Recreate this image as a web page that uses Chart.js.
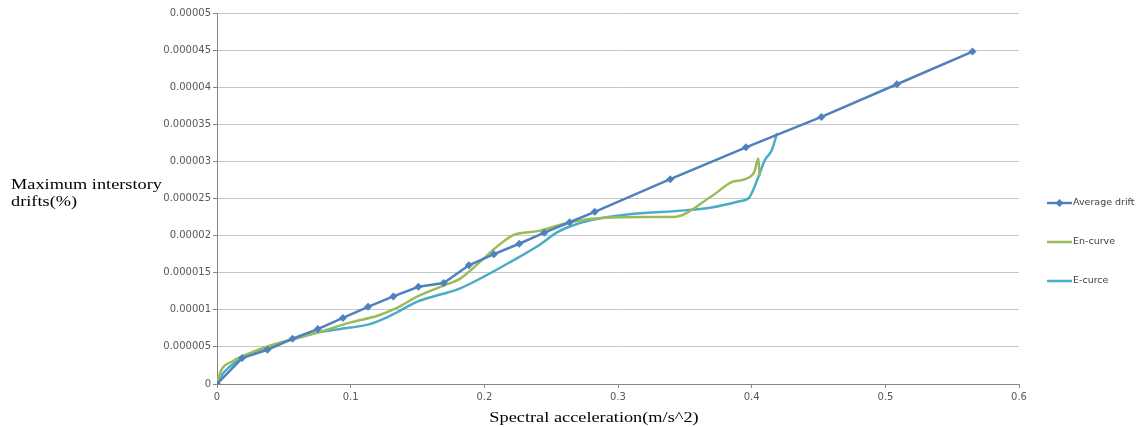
<!DOCTYPE html>
<html>
<head>
<meta charset="utf-8">
<script src="https://cdn.jsdelivr.net/npm/chart.js@4.4.0/dist/chart.umd.min.js"></script>
<style>
    html, body { margin: 0; padding: 0; background: #ffffff; }
    #wrap { width: 1138px; height: 427px; position: relative; }
</style>
</head>
<body>
<div id="wrap"><canvas id="driftChart"></canvas></div>
<script>
// tick labels
const xTickLabels = ['0', '0.1', '0.2', '0.3', '0.4', '0.5', '0.6'];
const yTickLabels = ['0', '0.000005', '0.00001', '0.000015', '0.00002', '0.000025', '0.00003', '0.000035', '0.00004', '0.000045', '0.00005'];

// Average drift
const avgX = [0, 0.0188, 0.0377, 0.0565, 0.0754, 0.0942, 0.113, 0.1319, 0.1507, 0.1696, 0.1884, 0.2072, 0.2261, 0.2449, 0.2638, 0.2826, 0.3391, 0.3957, 0.4522, 0.5087, 0.5652];
const avgY = [0, 3.5e-6, 4.6e-6, 6.1e-6, 7.4e-6, 8.9e-6, 10.4e-6, 11.8e-6, 13.1e-6, 13.6e-6, 16.0e-6, 17.5e-6, 18.9e-6, 20.4e-6, 21.8e-6, 23.2e-6, 27.6e-6, 31.9e-6, 36.0e-6, 40.4e-6, 44.8e-6];

// En-curve
const enX = [0, 0.003, 0.012, 0.025, 0.04, 0.06, 0.08, 0.1, 0.12, 0.135, 0.15, 0.17, 0.182, 0.197, 0.21, 0.222, 0.24, 0.264, 0.29, 0.32, 0.341, 0.37, 0.385, 0.395, 0.402, 0.405, 0.406];
const enY = [0, 1.8e-6, 3.1e-6, 4.2e-6, 5.2e-6, 6.2e-6, 7.2e-6, 8.3e-6, 9.2e-6, 10.3e-6, 11.8e-6, 13.3e-6, 14.2e-6, 16.5e-6, 18.6e-6, 20.1e-6, 20.6e-6, 21.8e-6, 22.4e-6, 22.5e-6, 22.5e-6, 25.3e-6, 27.2e-6, 27.6e-6, 28.6e-6, 30.4e-6, 28.0e-6];

// E-curce
const eX = [0, 0.004, 0.012, 0.025, 0.04, 0.06, 0.08, 0.1, 0.115, 0.125, 0.135, 0.15, 0.164, 0.172, 0.182, 0.2, 0.22, 0.24, 0.255, 0.265, 0.28, 0.31, 0.35, 0.37, 0.39, 0.398, 0.401, 0.405, 0.41, 0.415, 0.419];
const eY = [0, 1.3e-6, 2.7e-6, 4.0e-6, 5.1e-6, 6.2e-6, 7.1e-6, 7.6e-6, 8.1e-6, 8.8e-6, 9.7e-6, 11.1e-6, 11.9e-6, 12.3e-6, 12.9e-6, 14.5e-6, 16.5e-6, 18.6e-6, 20.5e-6, 21.3e-6, 22.1e-6, 22.9e-6, 23.4e-6, 23.8e-6, 24.6e-6, 25.1e-6, 26.1e-6, 27.9e-6, 30.2e-6, 31.5e-6, 33.8e-6];

const seriesNames = ['Average drift', 'En-curve', 'E-curce'];
const seriesColors = ['#4F81BD', '#9BBB59', '#4BACC6'];

const toPoints = (xs, ys) => xs.map((x, i) => ({ x: x, y: ys[i] }));

const textBits = {
    id: 'textBits',
    afterDraw(chart) {
        const ctx = chart.ctx;
        ctx.save();
        ctx.fillStyle = '#000000';
        ctx.font = '15px "Liberation Serif", "Times New Roman", serif';
        ctx.textBaseline = 'alphabetic';
        const stretched = (txt, x, y, align) => {
            ctx.save();
            ctx.translate(x, y);
            ctx.scale(1.22, 1);
            ctx.textAlign = align;
            ctx.fillText(txt, 0, 0);
            ctx.restore();
        };
        stretched('Maximum interstory', 11, 189, 'left');
        stretched('drifts(%)', 11, 206, 'left');
        stretched('Spectral acceleration(m/s^2)', 594, 422, 'center');

        // legend
        const rows = [203, 242, 281];
        ctx.font = '9.5px "DejaVu Sans", sans-serif';
        ctx.textAlign = 'left';
        ctx.textBaseline = 'middle';
        rows.forEach((y, i) => {
            ctx.strokeStyle = seriesColors[i];
            ctx.lineWidth = 2.5;
            ctx.beginPath();
            ctx.moveTo(1047, y);
            ctx.lineTo(1072, y);
            ctx.stroke();
            if (i === 0) {
                ctx.fillStyle = seriesColors[0];
                ctx.beginPath();
                ctx.moveTo(1059.5, y - 4);
                ctx.lineTo(1063.5, y);
                ctx.lineTo(1059.5, y + 4);
                ctx.lineTo(1055.5, y);
                ctx.closePath();
                ctx.fill();
            }
            ctx.fillStyle = '#404040';
            ctx.fillText(seriesNames[i], 1073, y);
        });
        ctx.restore();
    }
};

const ctx = document.getElementById('driftChart').getContext('2d');
new Chart(ctx, {
    type: 'scatter',
    data: {
        datasets: [{
            label: seriesNames[0],
            data: toPoints(avgX, avgY),
            showLine: true,
            borderColor: seriesColors[0],
            backgroundColor: seriesColors[0],
            borderWidth: 2.5,
            tension: 0,
            pointStyle: 'rectRot',
            pointRadius: 4,
            pointBorderWidth: 0
        }, {
            label: seriesNames[1],
            data: toPoints(enX, enY),
            showLine: true,
            borderColor: seriesColors[1],
            backgroundColor: seriesColors[1],
            borderWidth: 2.5,
            cubicInterpolationMode: 'monotone',
            pointRadius: 0
        }, {
            label: seriesNames[2],
            data: toPoints(eX, eY),
            showLine: true,
            borderColor: seriesColors[2],
            backgroundColor: seriesColors[2],
            borderWidth: 2.5,
            cubicInterpolationMode: 'monotone',
            pointRadius: 0
        }]
    },
    options: {
        responsive: true,
        maintainAspectRatio: false,
        animation: false,
        layout: { padding: { left: 0, right: 119, top: 13, bottom: 0 } },
        plugins: {
            legend: { display: false },
            tooltip: { enabled: false }
        },
        scales: {
            x: {
                type: 'linear',
                min: 0,
                max: 0.6,
                afterFit: (scale) => { scale.height = 43; },
                ticks: {
                    stepSize: 0.1,
                    color: '#595959',
                    font: { family: 'DejaVu Sans', size: 10 },
                    padding: 3,
                    maxRotation: 0,
                    callback: (v, i) => xTickLabels[i]
                },
                grid: { drawOnChartArea: false, tickLength: 4, tickColor: '#868686' },
                border: { color: '#868686', width: 1 }
            },
            y: {
                min: 0,
                max: 0.00005,
                afterFit: (scale) => { scale.width = 217; },
                ticks: {
                    stepSize: 0.000005,
                    color: '#595959',
                    font: { family: 'DejaVu Sans', size: 10 },
                    padding: 2,
                    callback: (v, i) => yTickLabels[i]
                },
                grid: { color: '#C6C6C6', lineWidth: 1, tickLength: 4, tickColor: '#868686' },
                border: { color: '#868686', width: 1 }
            }
        }
    },
    plugins: [textBits]
});
</script>
</body>
</html>
